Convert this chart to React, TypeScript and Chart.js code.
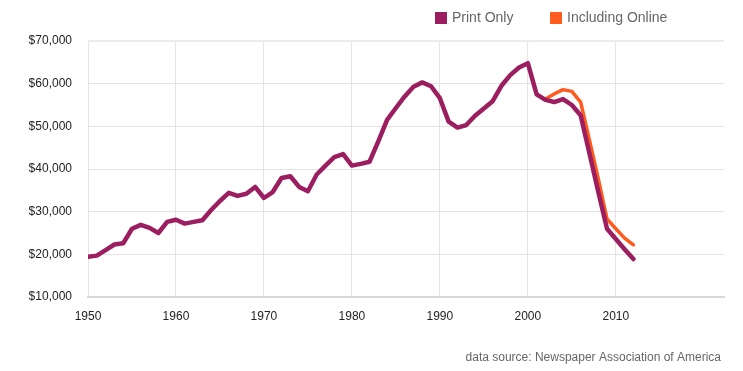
import React, { useEffect, useRef } from "react";
import { Chart, registerables } from "chart.js";

Chart.register(...registerables);

const years: number[] = [
  1950, 1951, 1952, 1953, 1954, 1955, 1956, 1957, 1958, 1959,
  1960, 1961, 1962, 1963, 1964, 1965, 1966, 1967, 1968, 1969,
  1970, 1971, 1972, 1973, 1974, 1975, 1976, 1977, 1978, 1979,
  1980, 1981, 1982, 1983, 1984, 1985, 1986, 1987, 1988, 1989,
  1990, 1991, 1992, 1993, 1994, 1995, 1996, 1997, 1998, 1999,
  2000, 2001, 2002, 2003, 2004, 2005, 2006, 2007, 2008, 2009,
  2010, 2011, 2012,
];

const printOnly: number[] = [
  19400, 19700, 21000, 22300, 22600, 26000, 26900, 26200, 25000, 27600,
  28100, 27200, 27600, 28000, 30400, 32500, 34400, 33700, 34200, 35800,
  33200, 34600, 37900, 38300, 35800, 34800, 38700, 40800, 42800, 43500,
  40800, 41200, 41700, 46500, 51500, 54300, 57000, 59300, 60300, 59400,
  56600, 51100, 49700, 50300, 52500, 54200, 55900, 59500, 62000, 63800,
  64800, 57500, 56200, 55700, 56400, 55000, 52600, 43700, 34700, 26000,
  23600, 21200, 18900,
];

const onlineYears: number[] = [2002, 2003, 2004, 2005, 2006, 2007, 2008, 2009, 2010, 2011, 2012];
const includingOnline: number[] = [56400, 57600, 58600, 58200, 55700, 46800, 37800, 28300, 26000, 23800, 22200];

const xTicks: number[] = [1950, 1960, 1970, 1980, 1990, 2000, 2010];
const seriesLabels: string[] = ["Print Only", "Including Online"];
const sourceText = "data source: Newspaper Association of America";

const PURPLE = "#9b1f60";
const ORANGE = "#ff5b1e";
const FONT = "'Liberation Sans', Arial, Helvetica, sans-serif";

const fmt = (v: number) => "$" + String(v).replace(/\B(?=(\d{3})+(?!\d))/g, ",");

const overlayPlugin = {
  id: "overlay",
  afterDraw(chart: any) {
    const { ctx } = chart;
    ctx.save();
    // legend
    const boxX = [435, 550];
    chart.data.datasets.forEach((ds: any, i: number) => {
      ctx.fillStyle = ds.borderColor;
      ctx.fillRect(boxX[i], 12, 12, 12);
      ctx.fillStyle = "#666666";
      ctx.font = "14px " + FONT;
      ctx.textBaseline = "middle";
      ctx.textAlign = "left";
      ctx.fillText(ds.label, boxX[i] + 17, 18.5);
    });
    // source
    ctx.fillStyle = "#666666";
    ctx.font = "12px " + FONT;
    ctx.textAlign = "right";
    ctx.textBaseline = "middle";
    ctx.fillText(sourceText, 721, 358);
    ctx.restore();
  },
};

export default function App() {
  const ref = useRef<HTMLCanvasElement | null>(null);

  useEffect(() => {
    if (!ref.current) return;
    const chart = new Chart(ref.current, {
      type: "line",
      data: {
        datasets: [
          {
            label: seriesLabels[0],
            data: years.map((y, i) => ({ x: y, y: printOnly[i] })),
            borderColor: PURPLE,
            backgroundColor: PURPLE,
            borderWidth: 4.5,
            pointRadius: 0,
            tension: 0,
            borderJoinStyle: "round",
            borderCapStyle: "round",
          },
          {
            label: seriesLabels[1],
            data: onlineYears.map((y, i) => ({ x: y, y: includingOnline[i] })),
            borderColor: ORANGE,
            backgroundColor: ORANGE,
            borderWidth: 3.5,
            pointRadius: 0,
            tension: 0,
            borderJoinStyle: "round",
            borderCapStyle: "round",
          },
        ],
      },
      options: {
        animation: false,
        responsive: false,
        maintainAspectRatio: false,
        layout: { padding: { top: 41, right: 19, bottom: 0, left: 0 } },
        plugins: {
          legend: { display: false },
          tooltip: { enabled: false },
          title: { display: false },
        },
        scales: {
          x: {
            type: "linear",
            min: 1950,
            max: 2022.3,
            afterBuildTicks(scale: any) {
              scale.ticks = xTicks.map((v) => ({ value: v }));
            },
            afterFit(scale: any) {
              scale.height = 74;
            },
            ticks: {
              color: "#222222",
              font: { family: FONT, size: 12 },
              padding: 12,
              maxRotation: 0,
              autoSkip: false,
              callback: (v: any) => String(v),
            },
            grid: {
              color: "#e4e4e4",
              lineWidth: 1,
              drawTicks: false,
            },
            border: { display: true, color: "#d8d8d8", width: 2 },
          },
          y: {
            type: "linear",
            min: 10000,
            max: 70000,
            afterFit(scale: any) {
              scale.width = 88;
            },
            ticks: {
              stepSize: 10000,
              color: "#222222",
              font: { family: FONT, size: 12 },
              padding: 16,
              callback: (v: any) => fmt(Number(v)),
            },
            grid: {
              color: (c: any) => (c.tick && c.tick.value === 70000 ? "#ececec" : "#e4e4e4"),
              lineWidth: (c: any) => (c.tick && c.tick.value === 70000 ? 2 : 1),
              drawTicks: false,
            },
            border: { display: false },
          },
        },
      },
      plugins: [overlayPlugin],
    } as any);
    return () => chart.destroy();
  }, []);

  return (
    <div style={{ position: "fixed", left: 0, top: 0, width: 743, height: 371, background: "#ffffff" }}>
      <canvas ref={ref} width={743} height={371} style={{ width: 743, height: 371, display: "block" }} />
    </div>
  );
}
